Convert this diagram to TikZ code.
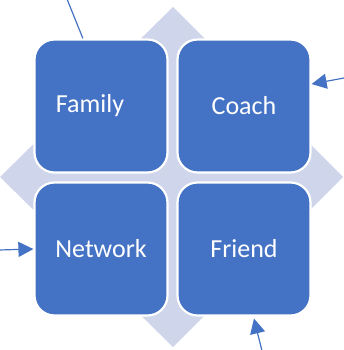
\documentclass[tikz,border=0pt]{standalone}
\usepackage{fontspec}
\setmainfont{Carlito}
\usepackage{tikz}
\usetikzlibrary{arrows.meta,positioning}
\definecolor{cellblue}{RGB}{68,114,196}
\definecolor{lavender}{RGB}{207,213,234}

\begin{document}
\begin{tikzpicture}[x=1pt,y=-1pt,
    cell/.style={rectangle,draw=white,line width=2.2pt,fill=cellblue,rounded corners=20pt,
      minimum width=133pt,minimum height=133pt,text=white,font=\fontsize{26}{31}\selectfont},
    pointer/.style={draw=cellblue,line width=1.2pt,-{Triangle[length=15pt,width=15pt]}}]
    \useasboundingbox (0,0) rectangle (343,350);

    % Background diamond
    \fill[lavender] (173,7) -- (343,177) -- (173,347) -- (0,177) -- cycle;

    % Matrix cells
    \node[cell] at (101,106) (family) {\hspace*{-22pt}Family};
    \node[cell] at (244,106) (coach) {Coach};
    \node[cell] at (101,249) (network) {Network};
    \node[cell] at (244,249) (friend) {Friend};

    % Free ends
    \coordinate (topin) at (67,-1);
    \coordinate (rightin) at (344,78);
    \coordinate (leftin) at (-1,250);
    \coordinate (bottomin) at (262,351);

    % Connectors
    \draw[cellblue,line width=1.2pt] (topin) -- (family.105);
    \draw[pointer] (rightin) -- (coach.18);
    \draw[pointer] (leftin) -- (network.west);
    \draw[pointer,shorten >=2pt] (bottomin) -- (friend.-82);
\end{tikzpicture}
\end{document}
